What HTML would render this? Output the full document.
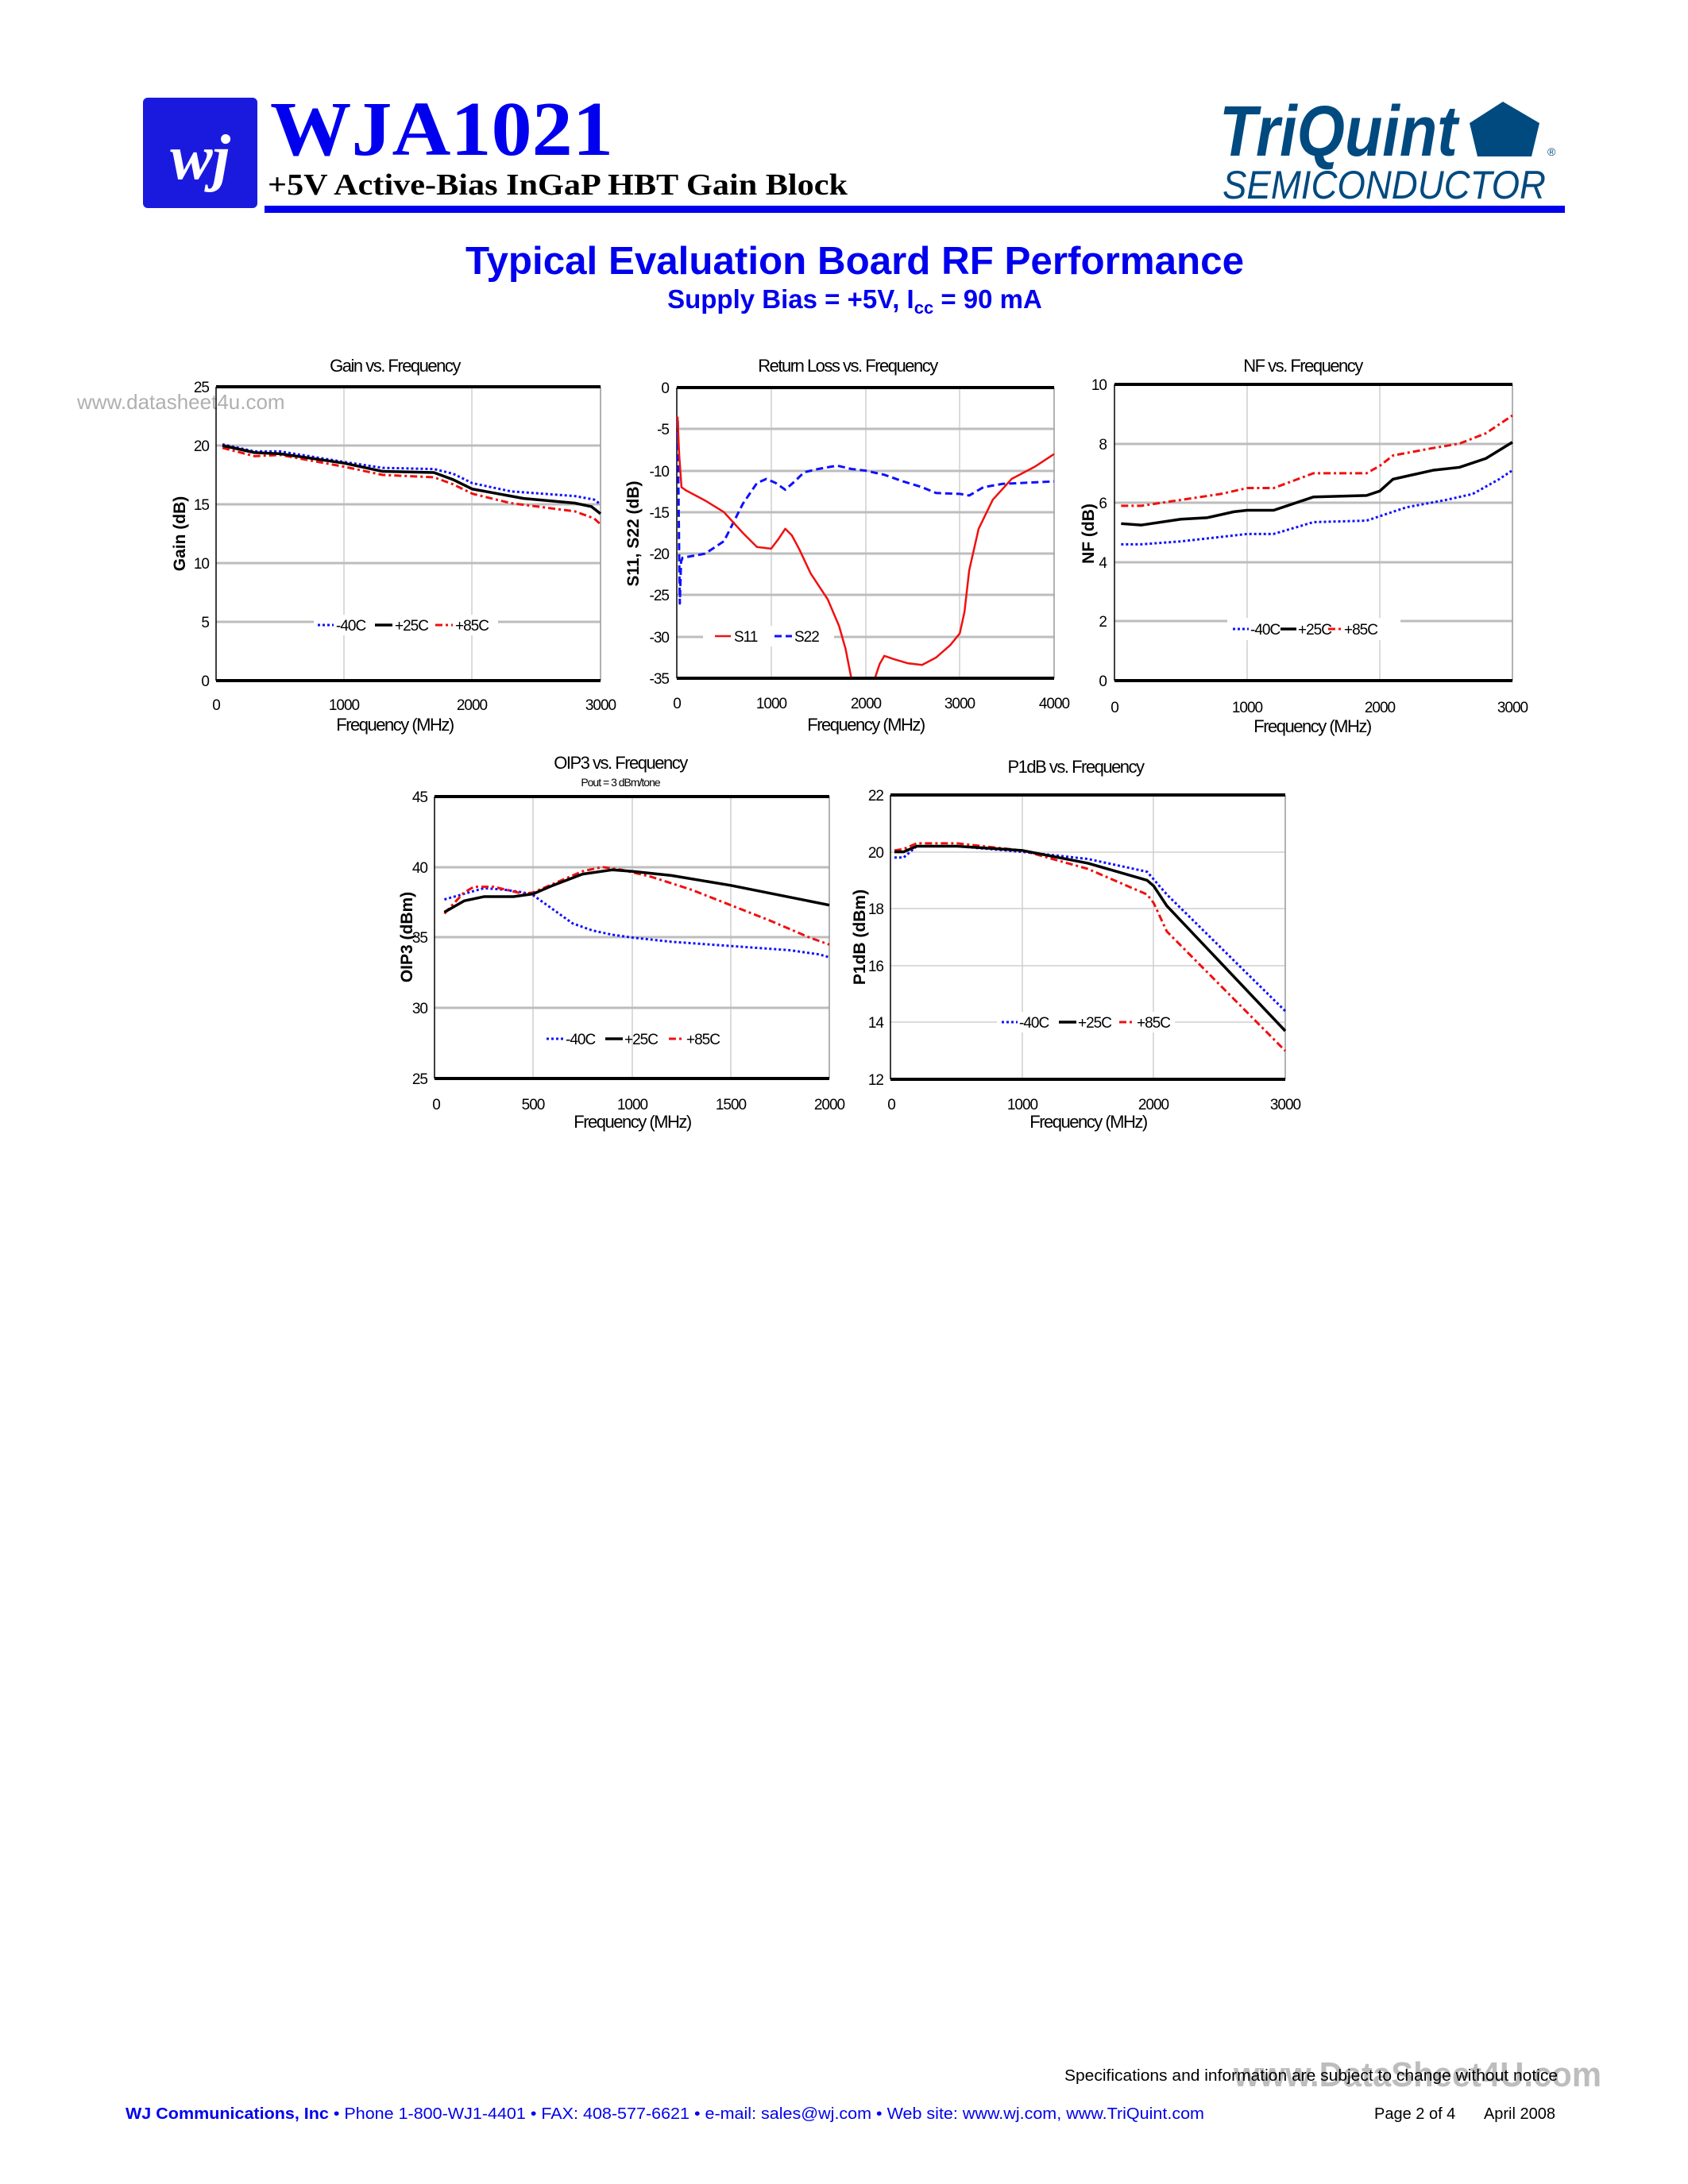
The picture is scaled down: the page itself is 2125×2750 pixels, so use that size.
<!DOCTYPE html>
<html><head><meta charset="utf-8"><style>
html,body{margin:0;padding:0;background:#fff}
svg{display:block}
text{font-family:"Liberation Sans",sans-serif}
.t{font-size:22px;letter-spacing:-1.5px}
.tk{font-size:19px;letter-spacing:-1px}
.ax{font-size:21px;font-weight:bold}
.g{stroke:#bdbdbd;stroke-width:3}
.gv{stroke:#cfcfcf;stroke-width:1.5}
.fr{stroke:#000;stroke-width:4}
.l{fill:none;vector-effect:non-scaling-stroke;stroke-linejoin:round}
.b{stroke:#1010ff;stroke-width:3;stroke-dasharray:3 3}
.k{stroke:#000;stroke-width:3.5}
.r{stroke:#f01010;stroke-width:3;stroke-dasharray:9 4 3 4}
.s11{stroke:#f01010;stroke-width:2.5}
.s22{stroke:#1010ff;stroke-width:3;stroke-dasharray:9 5}
</style></head><body>
<svg width="2125" height="2750" viewBox="0 0 2125 2750" xmlns="http://www.w3.org/2000/svg">
<!-- header -->
<rect x="180" y="123" width="144" height="139" rx="6" fill="#1a1adf"/>
<text x="252" y="225" style="font-family:'Liberation Serif',serif;font-style:italic;font-weight:bold" font-size="80" fill="#fff" text-anchor="middle">wj</text>
<text x="340" y="195" style="font-family:'Liberation Serif',serif;font-weight:bold" font-size="98" fill="#0000ee" textLength="432" lengthAdjust="spacingAndGlyphs">WJA1021</text>
<text x="337" y="245" style="font-family:'Liberation Serif',serif;font-weight:bold" font-size="38" fill="#000" textLength="730" lengthAdjust="spacingAndGlyphs">+5V Active-Bias InGaP HBT Gain Block</text>
<rect x="333" y="259" width="1637" height="9" fill="#0000ee"/>
<text x="1535" y="196" font-weight="bold" font-style="italic" font-size="90" fill="#004a80" textLength="300" lengthAdjust="spacingAndGlyphs">TriQuint</text>
<polygon points="1892,128 1938,155 1928,197 1860,197 1850,155" fill="#004a80"/>
<text x="1948" y="196" font-size="14" fill="#004a80">®</text>
<text x="1539" y="250" font-style="italic" font-size="50" fill="#004a80" textLength="407" lengthAdjust="spacingAndGlyphs">SEMICONDUCTOR</text>
<text x="1076" y="345" font-weight="bold" font-size="49" fill="#0000ee" text-anchor="middle" textLength="980" lengthAdjust="spacingAndGlyphs">Typical Evaluation Board RF Performance</text>
<text x="1076" y="388" font-weight="bold" font-size="33" fill="#0000ee" text-anchor="middle">Supply Bias = +5V, I<tspan font-size="22" dy="7">cc</tspan><tspan dy="-7"> = 90 mA</tspan></text>
<text x="97" y="515" font-size="26" fill="#b0b0b0">www.datasheet4u.com</text>

<!-- Gain -->
<g>
<line class="gv" x1="433" y1="487" x2="433" y2="857"/><line class="gv" x1="594" y1="487" x2="594" y2="857"/>
<line class="g" x1="272" y1="561" x2="756" y2="561"/><line class="g" x1="272" y1="635" x2="756" y2="635"/><line class="g" x1="272" y1="709" x2="756" y2="709"/><line class="g" x1="272" y1="783" x2="756" y2="783"/>
<line x1="756" y1="487" x2="756" y2="857" stroke="#999" stroke-width="1.5"/><line x1="272" y1="487" x2="272" y2="857" stroke="#000" stroke-width="1.5"/>
<line class="fr" x1="272" y1="487" x2="756" y2="487"/><line class="fr" x1="272" y1="857" x2="756" y2="857"/>
<g transform="translate(272,857) scale(0.16133,-14.8)">
<polyline class="l b" points="50,20.1 300,19.5 500,19.5 1000,18.6 1300,18.1 1700,18 1850,17.6 2000,16.8 2300,16.1 2800,15.7 2950,15.4 3000,15"/>
<polyline class="l r" points="50,19.8 300,19.1 500,19.2 1000,18.2 1300,17.5 1700,17.3 1850,16.7 2000,15.9 2300,15.1 2800,14.4 2950,13.8 3000,13.3"/>
<polyline class="l k" points="50,20 300,19.4 500,19.3 1000,18.5 1300,17.8 1700,17.7 1850,17.1 2000,16.3 2400,15.5 2800,15.1 2930,14.8 3000,14.2"/>
</g>
<rect x="395" y="774" width="232" height="26" fill="#fff"/>
<line x1="400" y1="787" x2="420" y2="787" class="b" stroke-dasharray="3 3"/><text x="423" y="794" class="tk">-40C</text>
<line x1="472" y1="787" x2="494" y2="787" class="k"/><text x="497" y="794" class="tk">+25C</text>
<line x1="548" y1="787" x2="570" y2="787" class="r"/><text x="573" y="794" class="tk">+85C</text>
<text x="497" y="468" class="t" text-anchor="middle">Gain vs. Frequency</text>
<g class="tk" text-anchor="end"><text x="263" y="494">25</text><text x="263" y="568">20</text><text x="263" y="642">15</text><text x="263" y="716">10</text><text x="263" y="790">5</text><text x="263" y="864">0</text></g>
<g class="tk" text-anchor="middle"><text x="272" y="894">0</text><text x="433" y="894">1000</text><text x="594" y="894">2000</text><text x="756" y="894">3000</text></g>
<text x="497" y="920" class="t" text-anchor="middle">Frequency (MHz)</text>
<text transform="translate(233,672) rotate(-90)" class="ax" text-anchor="middle">Gain (dB)</text>
</g>

<!-- Return loss -->
<g>
<line class="gv" x1="971" y1="488" x2="971" y2="854"/><line class="gv" x1="1090" y1="488" x2="1090" y2="854"/><line class="gv" x1="1208" y1="488" x2="1208" y2="854"/>
<line class="g" x1="852" y1="540" x2="1327" y2="540"/><line class="g" x1="852" y1="593" x2="1327" y2="593"/><line class="g" x1="852" y1="645" x2="1327" y2="645"/><line class="g" x1="852" y1="697" x2="1327" y2="697"/><line class="g" x1="852" y1="749" x2="1327" y2="749"/><line class="g" x1="852" y1="802" x2="1327" y2="802"/>
<line x1="1327" y1="488" x2="1327" y2="854" stroke="#999" stroke-width="1.5"/><line x1="852" y1="488" x2="852" y2="854" stroke="#000" stroke-width="1.5"/>
<rect x="885" y="788" width="165" height="26" fill="#fff"/>
<g transform="translate(852,488) scale(0.11875,10.457)">
<polyline class="l s22" points="10,4 25,20 32,26 45,21 60,20.5 300,20 500,18.5 700,14 850,11.5 950,11 1050,11.5 1150,12.3 1250,11.3 1350,10.2 1500,9.8 1700,9.4 1850,9.8 2000,10 2200,10.5 2400,11.3 2600,12 2750,12.7 3000,12.8 3100,13 3250,12 3450,11.6 4000,11.3"/>
<polyline class="l s11" points="8,3.5 25,8 50,12 100,12.4 300,13.6 500,15 700,17.5 850,19.2 1000,19.4 1080,18.2 1150,17 1220,17.8 1300,19.5 1420,22.4 1600,25.5 1720,28.7 1790,31.5 1850,35"/>
<polyline class="l s11" points="2100,35 2150,33.3 2200,32.3 2300,32.7 2450,33.2 2600,33.4 2750,32.5 2900,31 3000,29.6 3050,27 3100,22 3200,17 3350,13.5 3550,11 3800,9.5 4000,8"/>
</g>
<line class="fr" x1="852" y1="488" x2="1327" y2="488"/><line class="fr" x1="852" y1="854" x2="1327" y2="854"/>
<line x1="900" y1="801" x2="920" y2="801" class="s11"/><text x="924" y="808" class="tk">S11</text>
<line x1="975" y1="801" x2="997" y2="801" class="s22" stroke-dasharray="6 4"/><text x="1000" y="808" class="tk">S22</text>
<text x="1067" y="468" class="t" text-anchor="middle">Return Loss vs. Frequency</text>
<g class="tk" text-anchor="end"><text x="842" y="495">0</text><text x="842" y="547">-5</text><text x="842" y="600">-10</text><text x="842" y="652">-15</text><text x="842" y="704">-20</text><text x="842" y="756">-25</text><text x="842" y="809">-30</text><text x="842" y="861">-35</text></g>
<g class="tk" text-anchor="middle"><text x="852" y="892">0</text><text x="971" y="892">1000</text><text x="1090" y="892">2000</text><text x="1208" y="892">3000</text><text x="1327" y="892">4000</text></g>
<text x="1090" y="920" class="t" text-anchor="middle">Frequency (MHz)</text>
<text transform="translate(804,672) rotate(-90)" class="ax" text-anchor="middle">S11, S22 (dB)</text>
</g>

<!-- NF -->
<g>
<line class="gv" x1="1570" y1="484" x2="1570" y2="857"/><line class="gv" x1="1737" y1="484" x2="1737" y2="857"/>
<line class="g" x1="1403" y1="559" x2="1904" y2="559"/><line class="g" x1="1403" y1="633" x2="1904" y2="633"/><line class="g" x1="1403" y1="708" x2="1904" y2="708"/><line class="g" x1="1403" y1="782" x2="1904" y2="782"/>
<line x1="1904" y1="484" x2="1904" y2="857" stroke="#999" stroke-width="1.5"/><line x1="1403" y1="484" x2="1403" y2="857" stroke="#000" stroke-width="1.5"/>
<line class="fr" x1="1403" y1="484" x2="1904" y2="484"/><line class="fr" x1="1403" y1="857" x2="1904" y2="857"/>
<g transform="translate(1403,857) scale(0.167,-37.3)">
<polyline class="l r" points="50,5.9 200,5.9 500,6.1 800,6.3 1000,6.5 1200,6.5 1500,7 1900,7 2000,7.25 2100,7.6 2400,7.85 2600,8 2800,8.35 3000,8.95"/>
<polyline class="l k" points="50,5.3 200,5.25 500,5.45 700,5.5 900,5.7 1000,5.75 1200,5.75 1300,5.9 1500,6.2 1900,6.25 2000,6.4 2100,6.8 2400,7.1 2600,7.2 2800,7.5 3000,8.05"/>
<polyline class="l b" points="50,4.6 200,4.6 500,4.7 800,4.85 1000,4.95 1200,4.95 1500,5.35 1900,5.4 2000,5.55 2200,5.85 2500,6.1 2700,6.3 2900,6.8 3000,7.1"/>
</g>
<rect x="1545" y="778" width="218" height="28" fill="#fff"/>
<line x1="1552" y1="792" x2="1572" y2="792" class="b" stroke-dasharray="3 3"/><text x="1574" y="799" class="tk">-40C</text>
<line x1="1612" y1="792" x2="1632" y2="792" class="k"/><text x="1634" y="799" class="tk">+25C</text>
<line x1="1672" y1="792" x2="1690" y2="792" class="r"/><text x="1692" y="799" class="tk">+85C</text>
<text x="1640" y="468" class="t" text-anchor="middle">NF vs. Frequency</text>
<g class="tk" text-anchor="end"><text x="1393" y="491">10</text><text x="1393" y="566">8</text><text x="1393" y="640">6</text><text x="1393" y="715">4</text><text x="1393" y="789">2</text><text x="1393" y="864">0</text></g>
<g class="tk" text-anchor="middle"><text x="1403" y="897">0</text><text x="1570" y="897">1000</text><text x="1737" y="897">2000</text><text x="1904" y="897">3000</text></g>
<text x="1652" y="922" class="t" text-anchor="middle">Frequency (MHz)</text>
<text transform="translate(1377,672) rotate(-90)" class="ax" text-anchor="middle">NF (dB)</text>
</g>

<!-- OIP3 -->
<g>
<line class="gv" x1="671" y1="1003" x2="671" y2="1358"/><line class="gv" x1="796" y1="1003" x2="796" y2="1358"/><line class="gv" x1="920" y1="1003" x2="920" y2="1358"/>
<line class="g" x1="547" y1="1092" x2="1044" y2="1092"/><line class="g" x1="547" y1="1180" x2="1044" y2="1180"/><line class="g" x1="547" y1="1269" x2="1044" y2="1269"/>
<line x1="1044" y1="1003" x2="1044" y2="1358" stroke="#999" stroke-width="1.5"/><line x1="547" y1="1003" x2="547" y2="1358" stroke="#000" stroke-width="1.5"/>
<line class="fr" x1="547" y1="1003" x2="1044" y2="1003"/><line class="fr" x1="547" y1="1358" x2="1044" y2="1358"/>
<g transform="translate(547,1801.75) scale(0.2485,-17.75)">
<polyline class="l b" points="50,37.7 150,38.1 250,38.5 350,38.4 450,38.2 500,38 600,37 700,36 800,35.5 900,35.2 1000,35 1200,34.7 1500,34.4 1800,34.1 1950,33.8 2000,33.6"/>
<polyline class="l r" points="50,36.7 150,38.2 200,38.6 300,38.6 450,38.1 500,38.2 600,38.8 750,39.7 850,40 950,39.8 1100,39.3 1300,38.4 1500,37.3 1700,36.2 1900,35 2000,34.5"/>
<polyline class="l k" points="50,36.8 150,37.6 250,37.9 400,37.9 500,38.1 600,38.7 750,39.5 900,39.8 1000,39.7 1200,39.4 1500,38.7 2000,37.3"/>
</g>
<line x1="688" y1="1308" x2="710" y2="1308" class="b" stroke-dasharray="3 3"/><text x="712" y="1315" class="tk">-40C</text>
<line x1="762" y1="1308" x2="784" y2="1308" class="k"/><text x="786" y="1315" class="tk">+25C</text>
<line x1="842" y1="1308" x2="862" y2="1308" class="r"/><text x="864" y="1315" class="tk">+85C</text>
<text x="781" y="968" class="t" text-anchor="middle">OIP3 vs. Frequency</text>
<text x="781" y="990" font-size="14" letter-spacing="-1" text-anchor="middle">Pout = 3 dBm/tone</text>
<g class="tk" text-anchor="end"><text x="538" y="1010">45</text><text x="538" y="1099">40</text><text x="538" y="1187">35</text><text x="538" y="1276">30</text><text x="538" y="1365">25</text></g>
<g class="tk" text-anchor="middle"><text x="549" y="1397">0</text><text x="671" y="1397">500</text><text x="796" y="1397">1000</text><text x="920" y="1397">1500</text><text x="1044" y="1397">2000</text></g>
<text x="796" y="1420" class="t" text-anchor="middle">Frequency (MHz)</text>
<text transform="translate(519,1180) rotate(-90)" class="ax" text-anchor="middle">OIP3 (dBm)</text>
</g>

<!-- P1dB -->
<g>
<line class="gv" x1="1287" y1="1001" x2="1287" y2="1359"/><line class="gv" x1="1452" y1="1001" x2="1452" y2="1359"/>
<line class="gv" x1="1121" y1="1073" x2="1618" y2="1073"/><line class="gv" x1="1121" y1="1144" x2="1618" y2="1144"/><line class="gv" x1="1121" y1="1216" x2="1618" y2="1216"/><line class="gv" x1="1121" y1="1287" x2="1618" y2="1287"/>
<line x1="1618" y1="1001" x2="1618" y2="1359" stroke="#999" stroke-width="1.5"/><line x1="1121" y1="1001" x2="1121" y2="1359" stroke="#000" stroke-width="1.5"/>
<line class="fr" x1="1121" y1="1001" x2="1618" y2="1001"/><line class="fr" x1="1121" y1="1359" x2="1618" y2="1359"/>
<rect x="1255" y="1274" width="224" height="26" fill="#fff"/>
<g transform="translate(1121,1788.6) scale(0.16567,-35.8)">
<polyline class="l b" points="30,19.8 100,19.8 200,20.2 500,20.2 1000,20 1500,19.75 1950,19.3 2100,18.5 3000,14.4"/>
<polyline class="l r" points="30,20.05 100,20.1 200,20.3 500,20.3 1000,20.05 1500,19.4 1950,18.5 2000,18.2 2100,17.2 3000,13"/>
<polyline class="l k" points="30,20 100,20 200,20.2 500,20.2 1000,20.05 1500,19.6 1950,19 2000,18.8 2100,18.1 3000,13.7"/>
</g>
<line x1="1261" y1="1287" x2="1281" y2="1287" class="b" stroke-dasharray="3 3"/><text x="1283" y="1294" class="tk">-40C</text>
<line x1="1333" y1="1287" x2="1355" y2="1287" class="k"/><text x="1357" y="1294" class="tk">+25C</text>
<line x1="1409" y1="1287" x2="1429" y2="1287" class="r"/><text x="1431" y="1294" class="tk">+85C</text>
<text x="1354" y="973" class="t" text-anchor="middle">P1dB vs. Frequency</text>
<g class="tk" text-anchor="end"><text x="1112" y="1008">22</text><text x="1112" y="1080">20</text><text x="1112" y="1151">18</text><text x="1112" y="1223">16</text><text x="1112" y="1294">14</text><text x="1112" y="1366">12</text></g>
<g class="tk" text-anchor="middle"><text x="1122" y="1397">0</text><text x="1287" y="1397">1000</text><text x="1452" y="1397">2000</text><text x="1618" y="1397">3000</text></g>
<text x="1370" y="1420" class="t" text-anchor="middle">Frequency (MHz)</text>
<text transform="translate(1089,1180) rotate(-90)" class="ax" text-anchor="middle">P1dB (dBm)</text>
</g>

<!-- footer -->
<text x="1553" y="2627" font-size="44" font-weight="bold" fill="#bdbdbd" textLength="463" lengthAdjust="spacingAndGlyphs">www.DataSheet4U.com</text>
<text x="1340" y="2620" font-size="20" fill="#000" textLength="621" lengthAdjust="spacingAndGlyphs">Specifications and information are subject to change without notice</text>
<text x="158" y="2668" font-size="20" fill="#0000ee" textLength="1358" lengthAdjust="spacingAndGlyphs"><tspan font-weight="bold">WJ Communications, Inc</tspan> • Phone 1-800-WJ1-4401 • FAX: 408-577-6621 • e-mail: sales@wj.com • Web site: www.wj.com, www.TriQuint.com</text>
<text x="1730" y="2668" font-size="20" fill="#000">Page 2 of 4</text>
<text x="1958" y="2668" font-size="20" fill="#000" text-anchor="end">April 2008</text>
</svg>
</body></html>
